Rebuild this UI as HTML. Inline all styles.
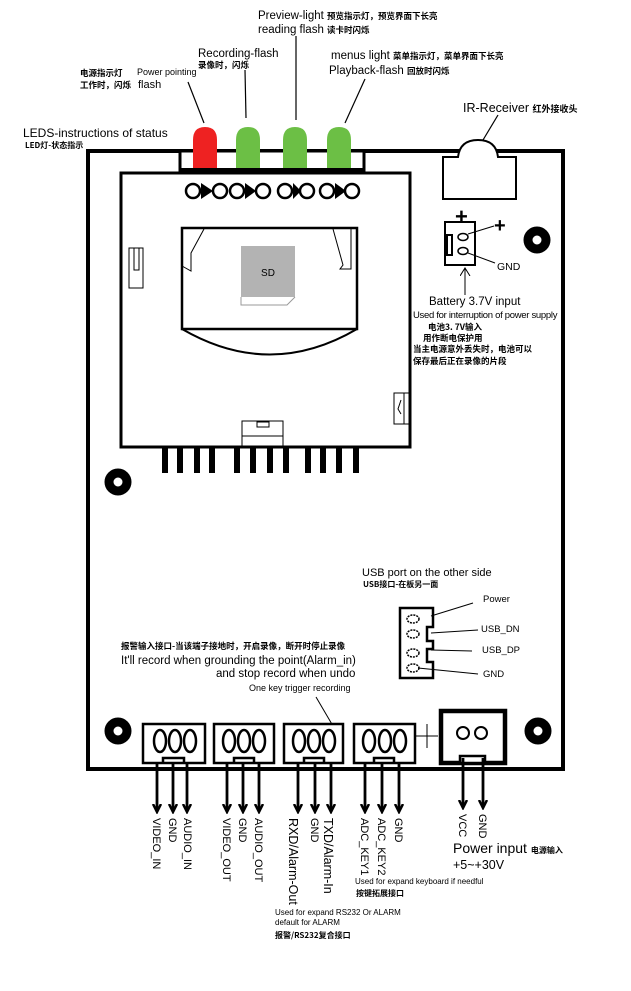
<!DOCTYPE html>
<html><head><meta charset="utf-8"><style>
html,body{margin:0;padding:0;background:#fff;width:631px;height:991px;overflow:hidden}
svg{display:block}
text{font-family:"Liberation Sans","Noto Sans CJK SC",sans-serif;fill:#000}
.c{font-family:"Noto Sans CJK SC","WenQuanYi Zen Hei",sans-serif;font-weight:bold}
</style></head><body>
<svg width="631" height="991" viewBox="0 0 631 991" xmlns="http://www.w3.org/2000/svg">
<defs><marker id="ah" markerWidth="10" markerHeight="12" refX="8" refY="5" orient="auto" markerUnits="userSpaceOnUse"><path d="M0,1 L8,5 L0,9" fill="none" stroke="#000" stroke-width="2.5"/></marker>
<marker id="a2" markerWidth="10" markerHeight="12" refX="8" refY="5" orient="auto" markerUnits="userSpaceOnUse"><path d="M0,0 L8,5 L0,10" fill="none" stroke="#000" stroke-width="1"/></marker></defs>

<!-- board -->
<rect x="88" y="151" width="475" height="618" fill="none" stroke="#000" stroke-width="4"/>
<!-- LED strip box -->
<rect x="180" y="151" width="184" height="19" fill="#fff" stroke="#000" stroke-width="3"/>
<path d="M193,170 L193,140 Q193,127 205,127 Q217,127 217,140 L217,170Z" fill="#ee2222"/>
<path d="M236,170 L236,140 Q236,127 248,127 Q260,127 260,140 L260,170Z" fill="#6cbf45"/>
<path d="M283,170 L283,140 Q283,127 295,127 Q307,127 307,140 L307,170Z" fill="#6cbf45"/>
<path d="M327,170 L327,140 Q327,127 339,127 Q351,127 351,140 L351,170Z" fill="#6cbf45"/>
<line x1="180" y1="170" x2="364" y2="170" stroke="#000" stroke-width="4"/>
<!-- LED leader lines -->
<line x1="188" y1="82" x2="204" y2="123" stroke="#000" stroke-width="1.2"/>
<line x1="245" y1="70" x2="246" y2="118" stroke="#000" stroke-width="1.2"/>
<line x1="296" y1="36" x2="296" y2="120" stroke="#000" stroke-width="1.2"/>
<line x1="365" y1="79" x2="345" y2="123" stroke="#000" stroke-width="1.2"/>

<!-- inner module -->
<rect x="121" y="173" width="289" height="274" fill="#fff" stroke="#000" stroke-width="3"/>
<g fill="#fff" stroke="#000" stroke-width="2.5">
<circle cx="193" cy="191" r="7"/><circle cx="220" cy="191" r="7"/><circle cx="237" cy="191" r="7"/><circle cx="263" cy="191" r="7"/><circle cx="285" cy="191" r="7"/><circle cx="307" cy="191" r="7"/><circle cx="327" cy="191" r="7"/><circle cx="352" cy="191" r="7"/>
</g>
<g fill="#000"><path d="M201,183 L213,191 L201,199Z"/><path d="M245,183 L256,191 L245,199Z"/><path d="M293,183 L301,191 L293,199Z"/><path d="M335,183 L346,191 L335,199Z"/></g>
<!-- SD slot -->
<rect x="182" y="228" width="175" height="101" fill="none" stroke="#000" stroke-width="2.5"/>
<path d="M182,329 Q270,380 357,329" fill="none" stroke="#000" stroke-width="2"/>
<path d="M204,229 L191,253 L191,271 L182,266" fill="none" stroke="#000" stroke-width="1"/>
<path d="M333,229 L343,265 L340,269 L351,269 L351,229" fill="none" stroke="#000" stroke-width="1"/>
<rect x="241" y="246" width="54" height="51" fill="#b3b3b3"/>
<path d="M241,297 L241,305 L287,305 L295,297" fill="none" stroke="#999" stroke-width="1"/>
<text x="268" y="276" font-size="10" text-anchor="middle">SD</text>
<rect x="129" y="248" width="14" height="40" fill="none" stroke="#000" stroke-width="1"/>
<rect x="134" y="248" width="5" height="22" fill="none" stroke="#000" stroke-width="1"/>
<rect x="242" y="421" width="41" height="26" fill="none" stroke="#000" stroke-width="1"/>
<line x1="242" y1="436" x2="283" y2="436" stroke="#000" stroke-width="1"/>
<rect x="257" y="422" width="12" height="5" fill="none" stroke="#000" stroke-width="1"/>
<rect x="394" y="393" width="16" height="31" fill="none" stroke="#000" stroke-width="1"/>
<line x1="404" y1="393" x2="404" y2="424" stroke="#000" stroke-width="1"/>
<path d="M401,400 L398,409 L401,414" fill="none" stroke="#000" stroke-width="1"/>
<g fill="#000">
<rect x="162" y="447" width="6" height="26"/><rect x="177" y="447" width="6" height="26"/><rect x="194" y="447" width="6" height="26"/><rect x="209" y="447" width="6" height="26"/>
<rect x="234" y="447" width="6" height="26"/><rect x="250" y="447" width="6" height="26"/><rect x="267" y="447" width="6" height="26"/><rect x="283" y="447" width="6" height="26"/>
<rect x="305" y="447" width="6" height="26"/><rect x="320" y="447" width="6" height="26"/><rect x="336" y="447" width="6" height="26"/><rect x="353" y="447" width="6" height="26"/>
</g>

<!-- holes -->
<g fill="none" stroke="#000" stroke-width="9">
<circle cx="118" cy="482" r="9"/><circle cx="537" cy="240" r="9"/><circle cx="118" cy="731" r="9"/><circle cx="538" cy="731" r="9"/>
</g>

<!-- IR receiver -->
<path d="M443,199 L443,157 L458,157 Q460,140 478,140 Q496,140 498,157 L516,157 L516,199Z" fill="#fff" stroke="#000" stroke-width="2"/>
<line x1="498" y1="115" x2="483" y2="140" stroke="#000" stroke-width="1.2"/>
<text x="463" y="112" font-size="12.5">IR-Receiver <tspan class="c" font-size="9">红外接收头</tspan></text>

<!-- battery -->
<text x="455" y="224" font-size="22" font-weight="bold">+</text>
<rect x="445" y="222" width="30" height="43" fill="#fff" stroke="#000" stroke-width="2"/>
<rect x="447" y="235" width="5" height="20" fill="#fff" stroke="#000" stroke-width="2"/>
<ellipse cx="463" cy="237" rx="5" ry="3.5" fill="none" stroke="#000" stroke-width="1.5"/>
<ellipse cx="463" cy="251" rx="5" ry="3.5" fill="none" stroke="#000" stroke-width="1.5"/>
<line x1="468" y1="234" x2="494" y2="226" stroke="#000" stroke-width="1"/>
<line x1="468" y1="253" x2="495" y2="263" stroke="#000" stroke-width="1"/>
<text x="494" y="232" font-size="20" font-weight="bold">+</text>
<text x="497" y="270" font-size="10.5">GND</text>
<line x1="465" y1="295" x2="465" y2="268" stroke="#000" stroke-width="1" marker-end="url(#a2)"/>
<text x="429" y="305" font-size="11.5">Battery 3.7V input</text>
<text x="413" y="318" font-size="9.5" letter-spacing="-0.3">Used for interruption of power supply</text>
<text x="428" y="330" class="c" font-size="8.5">电池3. 7V输入</text>
<text x="423" y="341" class="c" font-size="8.5">用作断电保护用</text>
<text x="413" y="352" class="c" font-size="8.5">当主电源意外丢失时，电池可以</text>
<text x="413" y="364" class="c" font-size="8.5">保存最后正在录像的片段</text>

<!-- top labels -->
<text x="258" y="19" font-size="11.5">Preview-light <tspan class="c" font-size="8.5">预览指示灯，预览界面下长亮</tspan></text>
<text x="258" y="33" font-size="11.5">reading flash <tspan class="c" font-size="8.5">读卡时闪烁</tspan></text>
<text x="198" y="57" font-size="11.5">Recording-flash</text>
<text x="198" y="68" class="c" font-size="8.5">录像时，闪烁</text>
<text x="331" y="59" font-size="11.5">menus light <tspan class="c" font-size="8.5">菜单指示灯，菜单界面下长亮</tspan></text>
<text x="329" y="74" font-size="11.5">Playback-flash <tspan class="c" font-size="8.5">回放时闪烁</tspan></text>
<text x="80" y="76" class="c" font-size="8.5">电源指示灯</text>
<text x="137" y="75" font-size="9">Power pointing</text>
<text x="80" y="88" class="c" font-size="8.5">工作时，闪烁</text>
<text x="138" y="88" font-size="11">flash</text>
<text x="23" y="137" font-size="12">LEDS-instructions of status</text>
<text x="25" y="148" class="c" font-size="8">LED灯-状态指示</text>

<!-- USB -->
<text x="362" y="576" font-size="11">USB port on the other side</text>
<text x="363" y="587" class="c" font-size="8">USB接口-在板另一面</text>
<path d="M400,608 L433,608 L433,627 L427,627 L427,641 L433,641 L433,649 L427,649 L427,662 L433,662 L433,678 L400,678Z" fill="none" stroke="#000" stroke-width="2.5"/>
<g fill="none" stroke="#000" stroke-width="1.5" stroke-dasharray="2,1">
<ellipse cx="413" cy="619" rx="6" ry="4"/><ellipse cx="413" cy="634" rx="6" ry="4"/><ellipse cx="413" cy="653" rx="6" ry="4"/><ellipse cx="413" cy="668" rx="6" ry="4"/></g>
<line x1="431" y1="616" x2="473" y2="603" stroke="#000" stroke-width="1"/>
<line x1="431" y1="633" x2="478" y2="630" stroke="#000" stroke-width="1"/>
<line x1="431" y1="650" x2="472" y2="651" stroke="#000" stroke-width="1"/>
<line x1="418" y1="668" x2="478" y2="674" stroke="#000" stroke-width="1"/>
<text x="483" y="602" font-size="9.5">Power</text>
<text x="481" y="632" font-size="9.5">USB_DN</text>
<text x="482" y="653" font-size="9.5">USB_DP</text>
<text x="483" y="677" font-size="9.5">GND</text>

<!-- alarm text -->
<text x="121" y="649" class="c" font-size="8.5">报警输入接口-当该端子接地时，开启录像，断开时停止录像</text>
<text x="121" y="664" font-size="11.5">It'll record when grounding the point(Alarm_in)</text>
<text x="216" y="677" font-size="11.5">and stop record when undo</text>
<text x="249" y="691" font-size="9">One key trigger recording</text>
<line x1="316" y1="697" x2="333" y2="726" stroke="#000" stroke-width="1"/>

<!-- bottom connectors -->
<g fill="#fff" stroke="#000" stroke-width="2.5">
<rect x="143" y="724" width="62" height="39"/><rect x="214" y="724" width="60" height="39"/><rect x="284" y="724" width="59" height="39"/><rect x="354" y="724" width="61" height="39"/>
</g>
<g fill="none" stroke="#000" stroke-width="2.5">
<ellipse cx="160" cy="741" rx="6" ry="11"/><ellipse cx="175" cy="741" rx="6" ry="11"/><ellipse cx="190" cy="741" rx="6" ry="11"/>
<ellipse cx="229" cy="741" rx="6" ry="11"/><ellipse cx="244" cy="741" rx="6" ry="11"/><ellipse cx="259" cy="741" rx="6" ry="11"/>
<ellipse cx="299" cy="741" rx="6" ry="11"/><ellipse cx="314" cy="741" rx="6" ry="11"/><ellipse cx="329" cy="741" rx="6" ry="11"/>
<ellipse cx="369" cy="741" rx="6" ry="11"/><ellipse cx="385" cy="741" rx="6" ry="11"/><ellipse cx="400" cy="741" rx="6" ry="11"/>
<path d="M163,763 L163,758 L184,758 L184,763"/><path d="M234,763 L234,758 L254,758 L254,763"/><path d="M304,763 L304,758 L324,758 L324,763"/><path d="M374,763 L374,758 L394,758 L394,763"/>
</g>
<line x1="427" y1="724" x2="427" y2="748" stroke="#000" stroke-width="1"/>
<line x1="416" y1="736" x2="438" y2="736" stroke="#000" stroke-width="1"/>
<rect x="441" y="711" width="64" height="52" fill="#fff" stroke="#000" stroke-width="4.5"/>
<circle cx="463" cy="733" r="6" fill="none" stroke="#000" stroke-width="2"/>
<circle cx="481" cy="733" r="6" fill="none" stroke="#000" stroke-width="2"/>
<rect x="460" y="756" width="25" height="7" fill="#fff" stroke="#000" stroke-width="2.5"/>

<g stroke="#000" stroke-width="2.8" marker-end="url(#ah)">
<line x1="157" y1="763" x2="157" y2="812"/><line x1="173" y1="763" x2="173" y2="812"/><line x1="187" y1="763" x2="187" y2="812"/>
<line x1="227" y1="763" x2="227" y2="812"/><line x1="243" y1="763" x2="243" y2="812"/><line x1="259" y1="763" x2="259" y2="812"/>
<line x1="298" y1="763" x2="298" y2="812"/><line x1="315" y1="763" x2="315" y2="812"/><line x1="331" y1="763" x2="331" y2="812"/>
<line x1="365" y1="763" x2="365" y2="812"/><line x1="382" y1="763" x2="382" y2="812"/><line x1="399" y1="763" x2="399" y2="812"/>
<line x1="463" y1="758" x2="463" y2="808"/><line x1="483" y1="758" x2="483" y2="808"/>
</g>
<g font-size="11">
<text transform="translate(153,818) rotate(90)">VIDEO_IN</text>
<text transform="translate(169,818) rotate(90)">GND</text>
<text transform="translate(184,818) rotate(90)">AUDIO_IN</text>
<text transform="translate(223,818) rotate(90)">VIDEO_OUT</text>
<text transform="translate(239,818) rotate(90)">GND</text>
<text transform="translate(255,818) rotate(90)">AUDIO_OUT</text>
<text transform="translate(289,818) rotate(90)" font-size="12.5">RXD/Alarm-Out</text>
<text transform="translate(311,818) rotate(90)">GND</text>
<text transform="translate(324,818) rotate(90)" font-size="12.5">TXD/Alarm-In</text>
<text transform="translate(361,818) rotate(90)">ADC_KEY1</text>
<text transform="translate(378,818) rotate(90)">ADC_KEY2</text>
<text transform="translate(395,818) rotate(90)">GND</text>
<text transform="translate(459,814) rotate(90)">VCC</text>
<text transform="translate(479,814) rotate(90)">GND</text>
</g>
<text x="453" y="853" font-size="14">Power input <tspan class="c" font-size="8">电源输入</tspan></text>
<text x="453" y="869" font-size="12.5">+5~+30V</text>
<text x="355" y="884" font-size="8">Used for expand keyboard if needful</text>
<text x="356" y="896" class="c" font-size="8">按键拓展接口</text>
<text x="275" y="915" font-size="8">Used for expand RS232 Or ALARM</text>
<text x="275" y="925" font-size="8">default for ALARM</text>
<text x="275" y="938" class="c" font-size="8">报警/RS232复合接口</text>
</svg>
</body></html>
